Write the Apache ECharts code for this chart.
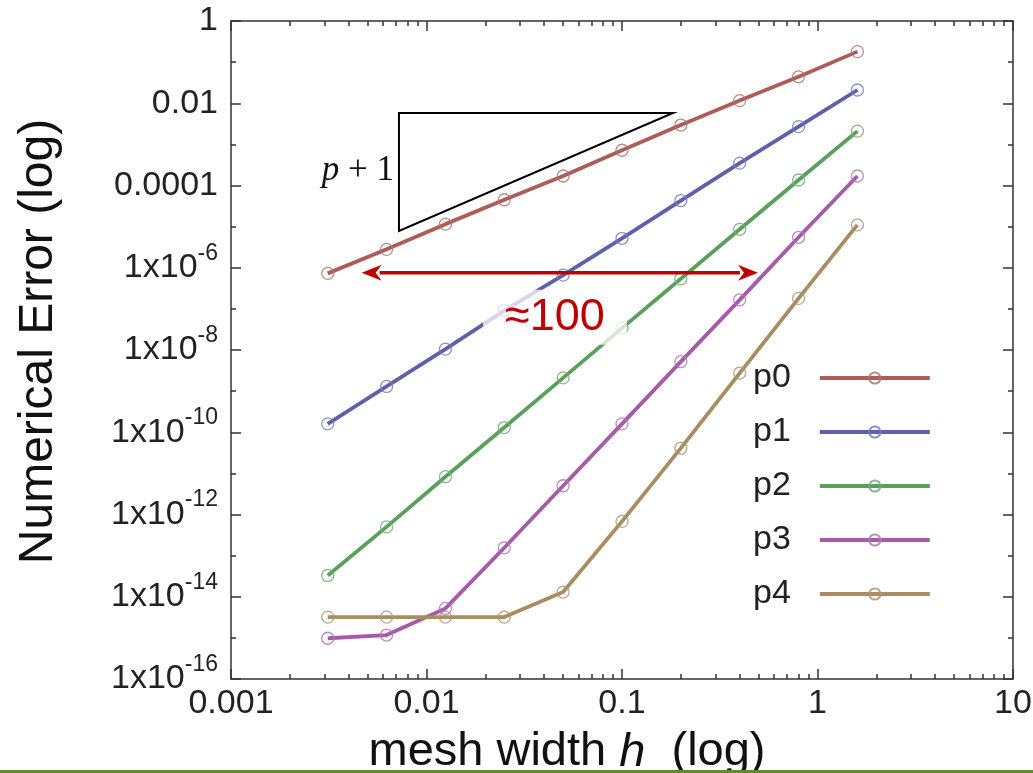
<!DOCTYPE html>
<html><head><meta charset="utf-8">
<script src="https://cdn.jsdelivr.net/npm/echarts@6/dist/echarts.min.js"></script>
<style>html,body{margin:0;padding:0;background:#fff}#c{width:1033px;height:773px}</style>
</head><body><div id="c"></div>
<script>
// ---- data ----
const meshWidth = [1.6, 0.8, 0.4, 0.2, 0.1, 0.05, 0.025, 0.0125, 0.00625, 0.003125];
const seriesNames = ['p0', 'p1', 'p2', 'p3', 'p4'];
const errP0 = [1.8e-1, 4.4e-2, 1.16e-2, 2.95e-3, 7.2e-4, 1.7e-4, 4.5e-5, 1.15e-5, 2.8e-6, 7.3e-7];
const errP1 = [2.1e-2, 2.7e-3, 3.5e-4, 4.3e-5, 5.2e-6, 6.6e-7, 9.1e-8, 1.05e-8, 1.3e-9, 1.6e-10];
const errP2 = [2.1e-3, 1.36e-4, 8.6e-6, 5.4e-7, 3.4e-8, 2.1e-9, 1.3e-10, 8.3e-12, 5.0e-13, 3.3e-14];
const errP3 = [1.7e-4, 5.5e-6, 1.66e-7, 5.2e-9, 1.6e-10, 5.0e-12, 1.55e-13, 5.2e-15, 1.17e-15, 9.8e-16];
const errP4 = [1.1e-5, 1.8e-7, 2.75e-9, 4.1e-11, 6.8e-13, 1.3e-14, 3.2e-15, 3.2e-15, 3.2e-15, 3.2e-15];
const xTickLabels = ['0.001', '0.01', '0.1', '1', '10'];
const yTickLabels = ['1x10{s|-16}', '1x10{s|-14}', '1x10{s|-12}', '1x10{s|-10}', '1x10{s|-8}', '1x10{s|-6}', '0.0001', '0.01', '1'];
// annotation anchors (data space)
const triangle = [[0.00723, 5.79e-3], [0.1824, 5.79e-3], [0.00723, 7.83e-6]];
const slopeLabelAt = [0.00723, 2.3e-4];
const arrowEnds = [[0.00466, 7.6e-7], [0.496, 7.6e-7]];
const arrowLabelAt = [0.0454, 6.3e-8];

// ---- styles ----
const F = '"Liberation Sans", Arial, Helvetica, sans-serif';
const lineColors = ['#ad5c58', '#5d61ab', '#59a15b', '#a65aa9', '#a98d61'];
const markColors = ['rgba(170,120,118,0.85)', 'rgba(120,124,190,0.85)', 'rgba(120,170,122,0.85)', 'rgba(175,120,178,0.85)', 'rgba(170,150,120,0.85)'];
const errs = [errP0, errP1, errP2, errP3, errP4];
const minorX = [];
[0.001, 0.01, 0.1, 1].forEach(d => { for (let k = 2; k <= 9; k++) minorX.push(+(k * d).toPrecision(3)); });
const axisLineStyle = { color: '#333', width: 1.5 };

const chart = echarts.init(document.getElementById('c'));
function xAxisDef(pos, major, withLabels) {
  return {
    type: 'log', logBase: 10, min: 0.001, max: 10, position: pos, gridIndex: 0,
    interval: major ? 1 : undefined,
    axisLine: { show: major, lineStyle: axisLineStyle, onZero: false },
    axisTick: major ? { show: true, inside: true, length: 10, lineStyle: axisLineStyle }
                    : { show: true, inside: true, length: 5, lineStyle: axisLineStyle, customValues: minorX },
    axisLabel: withLabels ? {
      show: true, fontSize: 34, fontFamily: F, color: '#222', margin: 8,
      formatter: v => xTickLabels[Math.round(Math.log10(v)) + 3] ?? ''
    } : { show: false },
    splitLine: { show: false },
    name: withLabels ? 'mesh width {i|h}  (log)' : '',
    nameLocation: 'middle', nameGap: 50,
    nameTextStyle: withLabels ? { fontSize: 47, fontFamily: F, color: '#111', padding: [0, 110, 0, 0],
      rich: { i: { fontSize: 47, fontFamily: F, fontStyle: 'italic', color: '#111' } } } : undefined
  };
}
function yAxisDef(pos, major, withLabels) {
  return {
    type: 'log', logBase: 10, min: 1e-16, max: 1, position: pos, gridIndex: 0,
    interval: major ? 2 : 1,
    axisLine: { show: major, lineStyle: axisLineStyle, onZero: false },
    axisTick: { show: true, inside: true, length: major ? 10 : 5, lineStyle: axisLineStyle },
    axisLabel: withLabels ? {
      show: true, fontSize: 34, fontFamily: F, color: '#222', margin: 13, lineHeight: 52,
      rich: { s: { fontSize: 23, lineHeight: 23, verticalAlign: 'top', fontFamily: F, color: '#222' } },
      formatter: v => { const e = Math.round(Math.log10(v)); return yTickLabels[(e + 16) / 2] ?? ''; }
    } : { show: false },
    splitLine: { show: false },
    name: withLabels ? 'Numerical Error (log)' : '',
    nameLocation: 'middle', nameGap: 168,
    nameTextStyle: withLabels ? { fontSize: 48, fontFamily: F, color: '#111', padding: [0, 0, 0, 17] } : undefined
  };
}

chart.setOption({
  backgroundColor: '#fff',
  animation: false,
  grid: { left: 231, top: 21, width: 782, height: 658, containLabel: false, outerBoundsMode: 'none' },
  xAxis: [xAxisDef('bottom', true, true), xAxisDef('bottom', false, false), xAxisDef('top', true, false), xAxisDef('top', false, false)],
  yAxis: [yAxisDef('left', true, true), yAxisDef('left', false, false), yAxisDef('right', true, false), yAxisDef('right', false, false)],
  legend: {
    orient: 'vertical', left: 748, top: 356, align: 'right',
    itemWidth: 110, itemHeight: 14, itemGap: 20,
    lineStyle: { width: 4 },
    textStyle: { fontSize: 34, fontFamily: F, color: '#222', lineHeight: 34, padding: [0, 24, 0, 0] },
    data: seriesNames
  },
  series: seriesNames.map((n, i) => ({
    name: n, type: 'line', xAxisIndex: 0, yAxisIndex: 0,
    data: meshWidth.map((h, j) => [h, errs[i][j]]),
    color: lineColors[i],
    symbol: 'circle', symbolSize: 12, showSymbol: true,
    lineStyle: { width: 3.8, color: lineColors[i] },
    itemStyle: { color: 'rgba(255,255,255,0)', borderColor: markColors[i], borderWidth: 1.3 },
    emphasis: { disabled: true }, silent: true
  }))
});

function px(p) { return chart.convertToPixel({ seriesIndex: 0 }, p); }
const T = triangle.map(px);
const S = px(slopeLabelAt);
const A0 = px(arrowEnds[0]), A1 = px(arrowEnds[1]);
const L = px(arrowLabelAt);
const red = '#c00000', head = 20, hw = 8;
chart.setOption({
  graphic: [
    { type: 'polygon', z: 50, shape: { points: T }, style: { fill: 'none', stroke: '#000', lineWidth: 2 } },
    { type: 'text', z: 50, x: S[0] - 5, y: S[1], style: {
        text: '{i|p} + 1', align: 'right', verticalAlign: 'middle', fill: '#111',
        font: '35px "Liberation Serif", serif',
        rich: { i: { fontStyle: 'italic', fontSize: 35, fontFamily: '"Liberation Serif", serif' } } } },
    { type: 'line', z: 50, shape: { x1: A0[0] + head - 2, y1: A0[1], x2: A1[0] - head + 2, y2: A1[1] }, style: { stroke: red, lineWidth: 3.5 } },
    { type: 'polygon', z: 50, shape: { points: [[A0[0], A0[1]], [A0[0] + head, A0[1] - hw], [A0[0] + head * 0.7, A0[1]], [A0[0] + head, A0[1] + hw]] }, style: { fill: red } },
    { type: 'polygon', z: 50, shape: { points: [[A1[0], A1[1]], [A1[0] - head, A1[1] - hw], [A1[0] - head * 0.7, A1[1]], [A1[0] - head, A1[1] + hw]] }, style: { fill: red } },
    { type: 'text', z: 50, x: L[0], y: L[1], style: {
        text: '≈100', align: 'center', verticalAlign: 'middle', fill: red,
        font: '45px "Liberation Sans", Arial, sans-serif',
        backgroundColor: 'rgba(255,255,255,0.75)', padding: [6, 22, 4, 22] } },
    { type: 'rect', z: 50, shape: { x: 0, y: 770, width: 1033, height: 3 }, style: { fill: '#5e8c31' } }
  ]
});
</script></body></html>
